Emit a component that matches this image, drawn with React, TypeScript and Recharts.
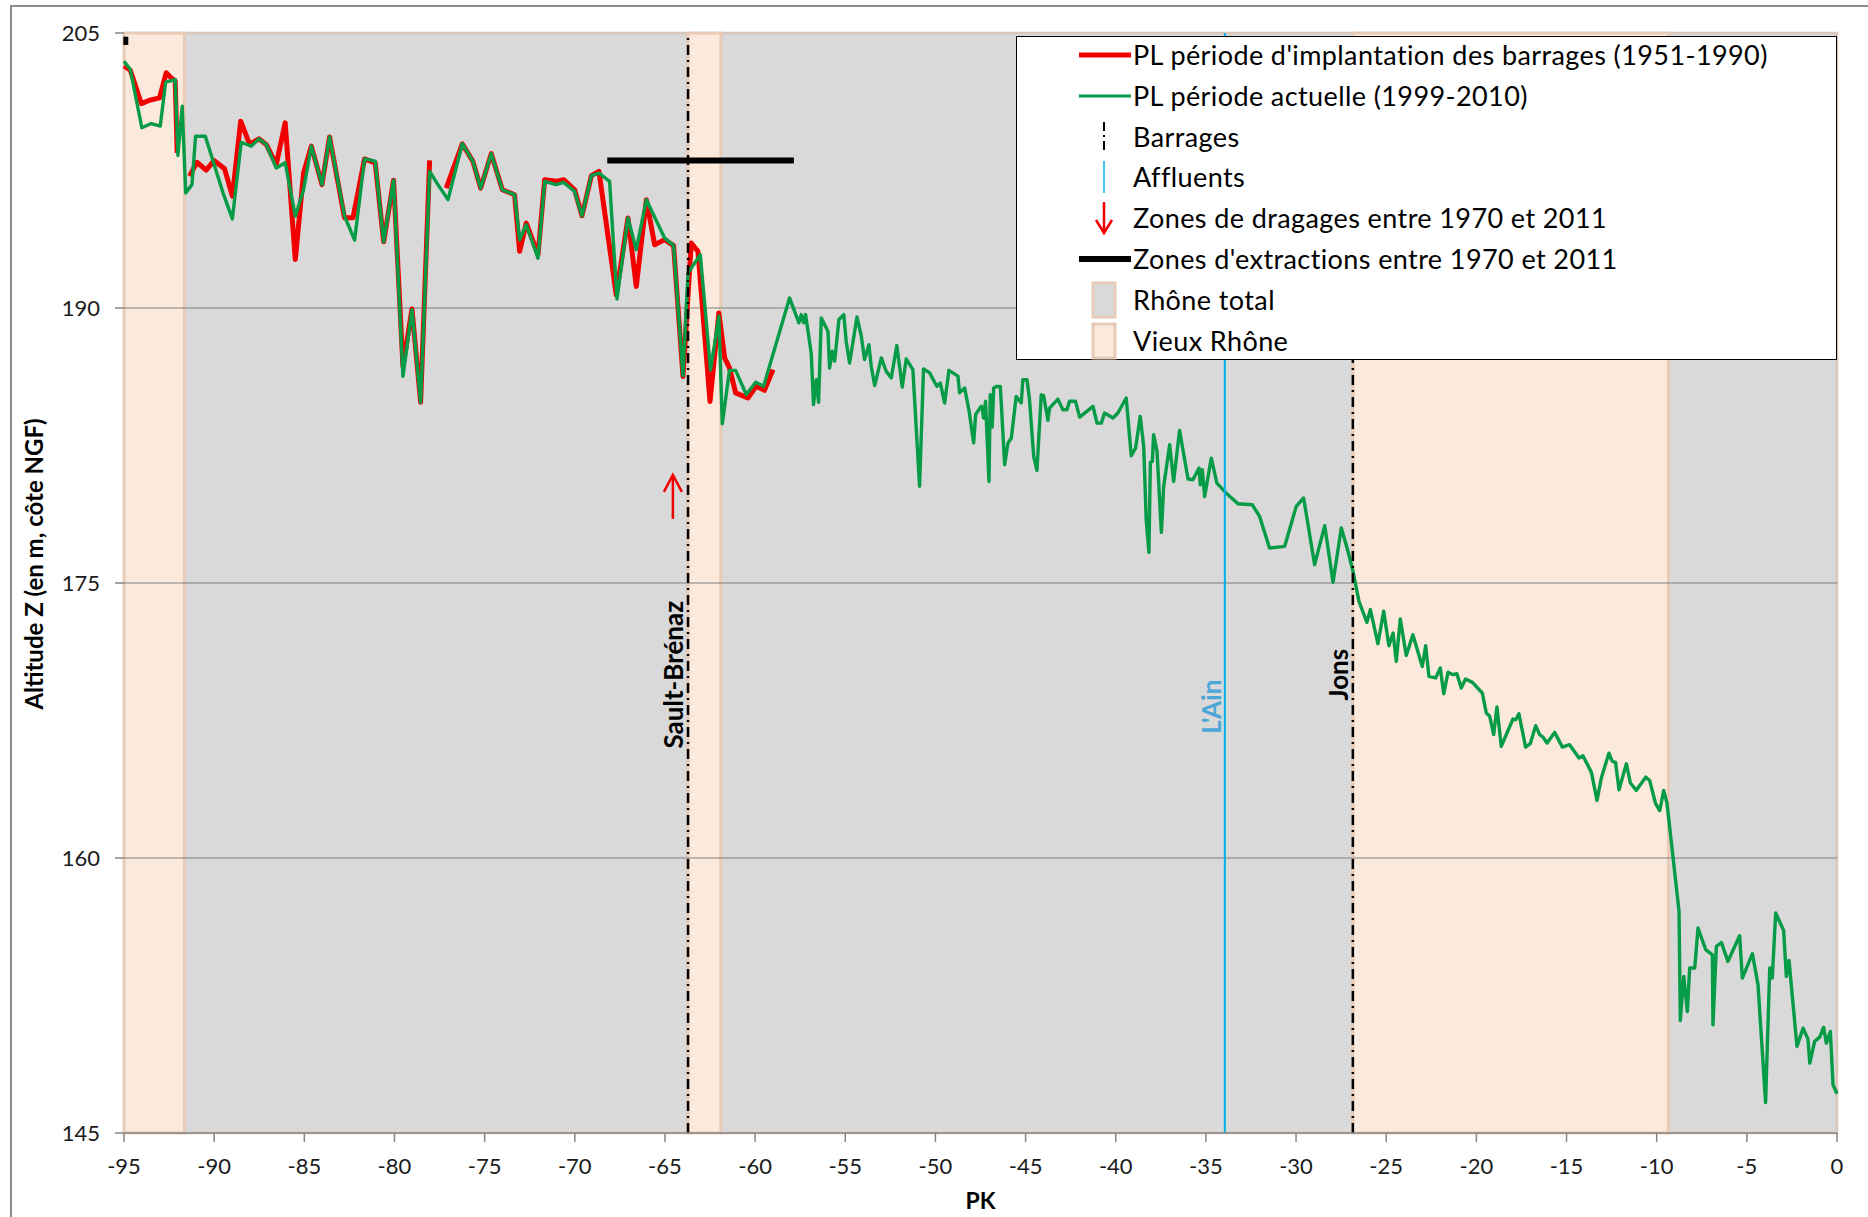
import React from "react";
import {
  LineChart,
  Line,
  XAxis,
  YAxis,
  ReferenceArea,
  ReferenceLine,
  ReferenceDot,
} from "recharts";

const FONT = "Lato, 'Liberation Sans', sans-serif";

const pkTicks = [-95, -90, -85, -80, -75, -70, -65, -60, -55, -50, -45, -40, -35, -30, -25, -20, -15, -10, -5, 0];
const zTicks = [145, 160, 175, 190, 205];
const gridLevels = [190, 175, 160];

// PL période d'implantation des barrages (1951-1990) — null = gap in the profile
const pkRed = [
  -95, -94.65, -94.04, -93.58, -93.03, -92.66, -92.38, -92.16, -92.05, -91.7,
  -91.36, -90.96, -90.44, -90.01, -89.42, -88.99, -88.53, -88.03, -87.52, -87.11,
  -86.56, -86.06, -85.5, -85.04, -84.61, -84.02, -83.6, -82.77, -82.3, -81.66,
  -81.07, -80.6, -80.05, -79.53, -79.03, -78.55, -78.05, -77.6, -77.13, -76.24,
  -75.65, -75.22, -74.63, -74.02, -73.34, -73.06, -72.69, -72.04, -71.67, -71.03,
  -70.62, -70.01, -69.6, -69.08, -68.66, -67.7, -67.05, -66.59, -66.03, -65.57,
  -65.02, -64.52, -64.0, -63.54, -63.17, -62.5, -62.01, -61.69, -61.42, -61.08,
  -60.4, -59.94, -59.48, -59.01,
];
const zRed = [
  203.2, 202.97, 201.15, 201.33, 201.46, 202.83, 202.55, 202.37, 198.46, null,
  197.19, 197.95, 197.52, 198.04, 197.59, 196.1, 200.19, 198.92, 199.23, 198.92,
  197.82, 200.1, 192.64, 197.37, 198.83, 196.73, 199.33, 194.92, 194.92, 198.13,
  197.92, 193.61, 196.97, 186.82, 189.95, 184.86, 198.05, null, 196.54, 198.96,
  198.0, 196.54, 198.42, 196.45, 196.18, 193.09, 194.63, 192.91, 197.0, 196.91,
  197.0, 196.45, 195.03, 197.22, 197.45, 190.72, 194.91, 191.18, 195.91, 193.45,
  193.73, 193.4, 186.27, 193.54, 193.09, 184.9, 189.73, 187.28, 186.73, 185.37,
  185.09, 185.73, 185.51, 186.64,
];

// PL période actuelle (1999-2010)
const pkGreen = [
  -95, -94.65, -94.01, -93.49, -92.99, -92.69, -92.16, -92.01, -91.77, -91.58,
  -91.23, -91.03, -90.49, -89.51, -88.99, -88.5, -87.94, -87.52, -87.11, -86.56,
  -86.06, -85.5, -85.04, -84.61, -84.02, -83.6, -82.77, -82.21, -81.66, -81.07,
  -80.6, -80.05, -79.53, -79.03, -78.55, -78.05, -77.59, -77.03, -76.24, -75.65,
  -75.22, -74.63, -74.02, -73.34, -73.06, -72.69, -72.04, -71.67, -71.03, -70.62,
  -70.01, -69.6, -69.08, -68.66, -68.07, -67.66, -67.05, -66.59, -66.03, -65.02,
  -64.52, -64.0, -63.72, -63.04, -62.47, -62.01, -61.82, -61.42, -61.08, -60.49,
  -59.97, -59.53, -58.09, -57.57, -57.44, -57.31, -57.2, -56.89, -56.76, -56.61,
  -56.48, -56.33, -55.96, -55.87, -55.72, -55.59, -55.35, -55.08, -54.95, -54.76,
  -54.35, -54.11, -53.93, -53.69, -53.56, -53.37, -53.0, -52.73, -52.45, -52.14,
  -51.84, -51.62, -51.25, -50.88, -50.66, -50.32, -50.14, -49.92, -49.73, -49.49,
  -49.25, -48.75, -48.66, -48.38, -48.14, -47.88, -47.77, -47.46, -47.4, -47.33,
  -47.22, -47.03, -46.96, -46.85, -46.77, -46.63, -46.4, -46.16, -45.98, -45.79,
  -45.52, -45.24, -45.15, -44.92, -44.78, -44.55, -44.37, -44.13, -44.0, -43.76,
  -43.67, -43.21, -42.93, -42.71, -42.56, -42.23, -42.0, -41.26, -41.04, -40.8,
  -40.62, -40.15, -39.88, -39.42, -39.14, -38.9, -38.64, -38.45, -38.31, -38.16,
  -38.08, -37.97, -37.9, -37.71, -37.47, -37.34, -37.01, -36.79, -36.46, -35.99,
  -35.72, -35.38, -35.31, -35.2, -35.07, -34.7, -34.39, -33.87, -33.22, -32.43,
  -32.02, -31.47, -30.63, -29.99, -29.58, -28.97, -28.41, -27.95, -27.49, -27.12,
  -26.84, -26.51, -26.07, -25.88, -25.46, -25.14, -24.85, -24.62, -24.44, -24.22,
  -23.89, -23.52, -23.0, -22.81, -22.63, -22.26, -22.0, -21.81, -21.57, -21.3,
  -21.08, -20.84, -20.6, -20.22, -19.67, -19.45, -19.26, -19.04, -18.86, -18.62,
  -17.97, -17.82, -17.64, -17.27, -17.01, -16.71, -16.49, -16.31, -16.08, -15.66,
  -15.23, -14.83, -14.31, -14.09, -13.62, -13.31, -13.07, -12.65, -12.46, -12.28,
  -12.09, -11.68, -11.46, -11.13, -10.61, -10.39, -10.06, -9.83, -9.61, -9.43,
  -8.76, -8.69, -8.5, -8.3, -8.17, -7.89, -7.71, -7.28, -6.91, -6.88,
  -6.69, -6.41, -6.05, -5.4, -5.25, -4.69, -4.38, -3.96, -3.73, -3.59,
  -3.4, -2.96, -2.81, -2.66, -2.22, -1.88, -1.61, -1.51, -1.24, -0.96,
  -0.74, -0.59, -0.37, -0.22, 0,
];
const zGreen = [
  203.46, 203.01, 199.83, 200.06, 199.92, 202.32, 202.46, 198.32, 201.01, 196.28,
  196.73, 199.37, 199.37, 196.28, 194.86, 199.04, 198.83, 199.23, 198.92, 197.64,
  197.92, 195.01, 196.46, 198.83, 196.73, 199.33, 195.01, 193.7, 198.13, 198.01,
  193.61, 196.97, 186.28, 189.91, 184.86, 197.45, 196.73, 195.91, 198.96, 198.0,
  196.54, 198.42, 196.45, 196.18, 193.72, 194.54, 192.72, 196.91, 196.73, 196.85,
  196.36, 195.03, 197.22, 197.36, 196.91, 190.49, 194.91, 193.18, 195.91, 193.82,
  193.4, 186.31, 191.91, 192.91, 186.63, 189.55, 183.69, 186.6, 186.6, 185.28,
  185.95, 185.73, 190.55, 189.19, 189.64, 189.19, 189.64, 187.55, 184.73, 186.09,
  184.86, 189.46, 188.73, 186.73, 187.64, 187.1, 189.37, 189.64, 188.19, 187.0,
  189.51, 188.46, 187.19, 188.0, 186.82, 185.77, 187.28, 186.55, 186.19, 187.95,
  185.69, 187.22, 186.64, 180.28, 186.68, 186.46, 186.13, 185.73, 185.91, 184.82,
  186.6, 186.28, 185.37, 185.64, 184.42, 182.64, 184.19, 184.64, 184.54, 184.0,
  184.91, 180.54, 185.27, 183.51, 185.63, 185.72, 185.72, 181.45, 182.63, 182.91,
  185.18, 184.82, 186.09, 186.09, 184.98, 181.9, 181.14, 185.27, 185.22, 183.87,
  184.54, 185.03, 184.45, 184.45, 184.91, 184.91, 184.05, 184.63, 183.72, 183.72,
  184.27, 184.0, 184.27, 185.09, 181.94, 182.36, 184.09, 182.45, 178.45, 176.67,
  181.58, 181.63, 183.09, 182.18, 177.76, 180.27, 182.54, 180.54, 183.32, 180.67,
  180.63, 181.27, 180.36, 181.18, 179.72, 181.81, 180.45, 179.9, 179.32, 179.27,
  178.63, 176.91, 177.0, 179.18, 179.64, 176.0, 178.13, 175.04, 178.0, 176.73,
  175.64, 174.0, 172.85, 173.55, 171.69, 173.46, 171.58, 172.27, 170.73, 173.04,
  171.04, 172.18, 170.45, 171.58, 169.91, 169.82, 170.36, 168.96, 170.13, 170.0,
  170.05, 169.27, 169.76, 169.58, 169.0, 167.91, 167.73, 166.73, 168.24, 166.09,
  167.58, 167.54, 167.87, 166.05, 166.24, 167.22, 166.73, 166.6, 166.27, 166.85,
  166.05, 166.18, 165.45, 165.58, 164.67, 163.14, 164.36, 165.72, 165.27, 165.21,
  163.72, 165.14, 164.09, 163.69, 164.41, 164.23, 162.96, 162.59, 163.69, 163.0,
  157.09, 151.14, 153.54, 151.63, 154.0, 154.0, 156.18, 155.0, 154.72, 150.9,
  155.18, 155.39, 154.36, 155.76, 153.45, 154.78, 153.08, 146.66, 154.0, 153.45,
  157.0, 156.05, 153.54, 154.41, 149.72, 150.72, 150.12, 148.81, 150.0, 150.23,
  150.77, 149.9, 150.54, 147.63, 147.14,
];

// background zones (PK from / to)
const rhoneTotal = [[-91.65, -63.72], [-61.9, -26.85], [-9.35, 0]];
const vieuxRhone = [[-95, -91.65], [-63.72, -61.9], [-26.85, -9.35]];

const barrages = [
  { pk: -63.72, name: "Sault-Brénaz", z: 170 },
  { pk: -26.85, name: "Jons", z: 170 },
];
const affluents = [{ pk: -33.95, name: "L'Ain", z: 168.25 }];

const extractionPk = [-68.2, -57.85];
const extractionZ = 198.05;
const dragagePk = -64.56;
const dragageZ = [178.5, 180.9];

const legendItems = [
  "PL période d'implantation des barrages (1951-1990)",
  "PL période actuelle (1999-2010)",
  "Barrages",
  "Affluents",
  "Zones de dragages entre 1970 et 2011",
  "Zones d'extractions entre 1970 et 2011",
  "Rhône total",
  "Vieux Rhône",
];

const toRows = (pk: number[], z: (number | null)[]) => pk.map((p, i) => ({ pk: p, z: z[i] }));
const redData = toRows(pkRed, zRed);
const greenData = toRows(pkGreen, zGreen);

const GREEN = "#069b47";
const RED = "#f20000";
const GRAY = "#d9d9d9";
const PEACH = "#fbe9db";
const TAN = "#e8cbb6";
const BLUE = "#00b0f0";

function VLabel(props: any) {
  const { viewBox, text, z, color, gap } = props;
  const cx = viewBox.x - gap;
  const cy = viewBox.y + (viewBox.height * (205 - z)) / 60;
  return (
    <text
      x={cx}
      y={cy}
      transform={`rotate(-90 ${cx} ${cy})`}
      textAnchor="middle"
      fill={color}
      fontWeight="bold"
      fontSize={26}
      fontFamily={FONT}
    >
      {text}
    </text>
  );
}

function LegendSymbol({ i }: { i: number }) {
  const c = 20;
  switch (i) {
    case 0:
      return <line x1={2} x2={54} y1={c} y2={c} stroke={RED} strokeWidth={5} />;
    case 1:
      return <line x1={2} x2={54} y1={c} y2={c} stroke={GREEN} strokeWidth={3} />;
    case 2:
      return <line x1={27} x2={27} y1={c - 15} y2={c + 15} stroke="#000" strokeWidth={2} strokeDasharray="9 4 2 4" />;
    case 3:
      return <line x1={27} x2={27} y1={c - 16} y2={c + 16} stroke={BLUE} strokeWidth={1.5} />;
    case 4:
      return (
        <g stroke={RED} strokeWidth={2.5} fill="none">
          <line x1={27} x2={27} y1={c - 16} y2={c + 15} />
          <path d={`M${19} ${c + 2} L27 ${c + 15} L${35} ${c + 2}`} />
        </g>
      );
    case 5:
      return <line x1={2} x2={54} y1={c} y2={c} stroke="#000" strokeWidth={6} />;
    case 6:
      return <rect x={16} y={c - 17} width={22} height={34} fill={GRAY} stroke={TAN} strokeWidth={3} />;
    default:
      return <rect x={16} y={c - 17} width={22} height={34} fill={PEACH} stroke={TAN} strokeWidth={3} />;
  }
}

function LegendBox() {
  return (
    <div
      style={{
        position: "absolute",
        left: 1016,
        top: 36,
        width: 819,
        height: 322,
        background: "#fff",
        border: "1.5px solid #000",
        fontFamily: FONT,
        fontSize: 27,
        letterSpacing: 0.4,
        color: "#000",
      }}
    >
      {legendItems.map((t, i) => (
        <div key={t} style={{ position: "absolute", left: 0, top: -2 + i * 40.8, height: 40, width: "100%" }}>
          <svg width={56} height={40} style={{ position: "absolute", left: 60, top: 0 }}>
            <LegendSymbol i={i} />
          </svg>
          <div style={{ position: "absolute", left: 116, top: 0, height: 40, lineHeight: "40px", whiteSpace: "nowrap" }}>
            {t}
          </div>
        </div>
      ))}
    </div>
  );
}

export default function App() {
  return (
    <div style={{ position: "absolute", left: 0, top: 0, width: 1868, height: 1217, overflow: "hidden", background: "#fff" }}>
      <div
        style={{
          position: "absolute",
          left: 10,
          top: 5,
          width: 1900,
          height: 1250,
          border: "2px solid #8c8c8c",
        }}
      />
      <div style={{ position: "absolute", left: 0, top: 0 }}>
        <LineChart width={1868} height={1217} margin={{ top: 33, right: 31, bottom: 0, left: 0 }}>
          <XAxis
            dataKey="pk"
            type="number"
            domain={[-95, 0]}
            ticks={pkTicks}
            interval={0}
            height={84}
            stroke="#868686"
            axisLine={{ stroke: "#868686", strokeWidth: 1.5 }}
            tickLine={{ stroke: "#868686", strokeWidth: 1.5 }}
            tickSize={9}
            tickMargin={16}
            tick={{ fill: "#1a1a1a", fontSize: 22, fontFamily: FONT }}
            label={(p: any) => (
              <text
                x={p.viewBox.x + p.viewBox.width / 2}
                y={p.viewBox.y + 76}
                textAnchor="middle"
                fontWeight="bold"
                fontSize={23}
                fontFamily={FONT}
                fill="#000"
              >
                PK
              </text>
            )}
          />
          <YAxis
            type="number"
            domain={[145, 205]}
            ticks={zTicks}
            interval={0}
            width={124}
            axisLine={false}
            tickLine={{ stroke: "#868686", strokeWidth: 1.5 }}
            tickSize={9}
            tickMargin={15}
            tick={{ fill: "#1a1a1a", fontSize: 22, fontFamily: FONT }}
            label={(p: any) => {
              const cx = p.viewBox.x + 33;
              const cy = p.viewBox.y + p.viewBox.height / 2 - 19;
              return (
                <text
                  x={cx}
                  y={cy}
                  transform={`rotate(-90 ${cx} ${cy})`}
                  textAnchor="middle"
                  dominantBaseline="central"
                  fontWeight="bold"
                  fontSize={24}
                  fontFamily={FONT}
                  fill="#000"
                >
                  Altitude Z (en m, côte NGF)
                </text>
              );
            }}
          />
          {rhoneTotal.map(([a, b]) => (
            <ReferenceArea
              key={`t${a}`}
              x1={a}
              x2={b}
              y1={145}
              y2={205}
              fill={GRAY}
              fillOpacity={1}
              stroke="#d9c6b8"
              strokeWidth={2.5}
            />
          ))}
          {vieuxRhone.map(([a, b]) => (
            <ReferenceArea
              key={`v${a}`}
              x1={a}
              x2={b}
              y1={145}
              y2={205}
              fill={PEACH}
              fillOpacity={1}
              stroke={TAN}
              strokeWidth={3}
            />
          ))}
          {gridLevels.map((g) => (
            <ReferenceLine key={`g${g}`} y={g} stroke="#808080" strokeWidth={1.2} />
          ))}
          <ReferenceLine
            segment={[
              { x: -94.9, y: 204.8 },
              { x: -94.9, y: 204.35 },
            ]}
            stroke="#000"
            strokeWidth={5}
          />
          <Line
            data={redData}
            dataKey="z"
            stroke={RED}
            strokeWidth={5}
            dot={false}
            connectNulls={false}
            strokeLinejoin="round"
            isAnimationActive={false}
          />
          <Line
            data={greenData}
            dataKey="z"
            stroke={GREEN}
            strokeWidth={3.4}
            dot={false}
            strokeLinejoin="round"
            isAnimationActive={false}
          />
          {affluents.map((a) => (
            <ReferenceLine
              key={a.name}
              x={a.pk}
              stroke={BLUE}
              strokeWidth={2}
              label={<VLabel text={a.name} z={a.z} color="#4aa6d6" gap={4} />}
            />
          ))}
          {barrages.map((b) => (
            <ReferenceLine
              key={b.name}
              x={b.pk}
              stroke="#000"
              strokeWidth={2.5}
              strokeDasharray="10 5 2 5"
              label={<VLabel text={b.name} z={b.z} color="#000" gap={5} />}
            />
          ))}
          <ReferenceLine
            segment={[
              { x: extractionPk[0], y: extractionZ },
              { x: extractionPk[1], y: extractionZ },
            ]}
            stroke="#000"
            strokeWidth={6}
          />
          <ReferenceLine
            segment={[
              { x: dragagePk, y: dragageZ[0] },
              { x: dragagePk, y: dragageZ[1] },
            ]}
            stroke={RED}
            strokeWidth={2.5}
          />
          <ReferenceDot
            x={dragagePk}
            y={dragageZ[1]}
            r={0}
            shape={(p: any) => (
              <path
                d={`M${p.cx - 9} ${p.cy + 17} L${p.cx} ${p.cy} L${p.cx + 9} ${p.cy + 17}`}
                stroke={RED}
                strokeWidth={2.5}
                fill="none"
              />
            )}
          />
        </LineChart>
      </div>
      <LegendBox />
    </div>
  );
}
